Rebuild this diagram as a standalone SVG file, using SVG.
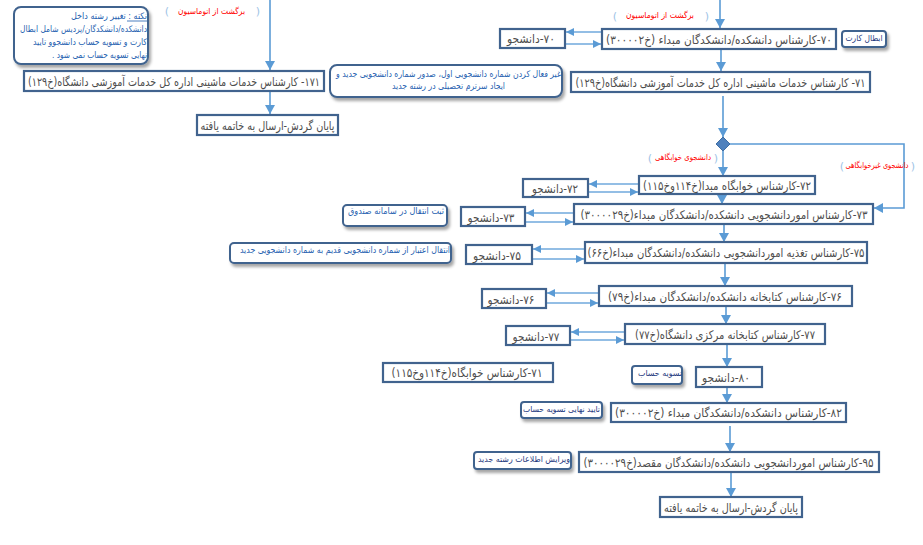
<svg xmlns="http://www.w3.org/2000/svg" width="923" height="545" viewBox="0 0 923 545">
<style>
.bx{fill:#fff;stroke:#41638e;stroke-width:2.2}
.nt{fill:#fff;stroke:#41638e;stroke-width:2}
.t{font-family:"DejaVu Sans",sans-serif;font-size:12px;fill:#4d4d4d;direction:rtl;text-anchor:middle}
.tn{font-family:"DejaVu Sans",sans-serif;font-size:9px;fill:#1f5fb0;direction:rtl;text-anchor:middle}
.td{font-family:"DejaVu Sans",sans-serif;font-size:8.5px;fill:#1f3a80;direction:rtl;text-anchor:middle}
.tr{font-family:"DejaVu Sans",sans-serif;font-size:8.5px;fill:#ff0000;direction:rtl;text-anchor:middle}
.br{font-family:"DejaVu Sans",sans-serif;font-size:11px;fill:#9dc3e6;text-anchor:middle}
.ln{fill:none;stroke:#5b9bd5;stroke-width:1.6}
.sl{fill:none;stroke:#6fa8dc;stroke-width:1.4}
</style>
<defs>
<marker id="ah" viewBox="0 0 9 10" markerWidth="9" markerHeight="10" refX="9" refY="5" orient="auto" markerUnits="userSpaceOnUse"><path d="M0,0 L9,5 L0,10 z" fill="#5b9bd5"/></marker>
<marker id="as" viewBox="0 0 8 8" markerWidth="8" markerHeight="8" refX="8" refY="4" orient="auto" markerUnits="userSpaceOnUse"><path d="M0,0 L8,4 L0,8 z" fill="#5b9bd5"/></marker>
<filter id="sh" x="-10%" y="-20%" width="130%" height="160%"><feDropShadow dx="2" dy="3" stdDeviation="1.5" flood-color="#000" flood-opacity="0.35"/></filter>
</defs>

<g id="connectors">
<line class="ln" x1="270" y1="0" x2="270" y2="70" marker-end="url(#ah)"/>
<line class="ln" x1="270" y1="92" x2="270" y2="114" marker-end="url(#ah)"/>
<line class="ln" x1="720" y1="0" x2="720" y2="28" marker-end="url(#ah)"/>
<line class="ln" x1="721" y1="50" x2="721" y2="71" marker-end="url(#ah)"/>
<line class="ln" x1="723" y1="96" x2="723" y2="137" marker-end="url(#ah)"/>
<line class="ln" x1="723" y1="151" x2="723" y2="176" marker-end="url(#ah)"/>
<polyline class="ln" points="730,144 904,144 904,208 874,208" marker-end="url(#ah)"/>
<line class="ln" x1="722" y1="195" x2="722" y2="204" marker-end="url(#ah)"/>
<line class="ln" x1="724" y1="225" x2="724" y2="242" marker-end="url(#ah)"/>
<line class="ln" x1="725" y1="264" x2="725" y2="286" marker-end="url(#ah)"/>
<line class="ln" x1="726" y1="307" x2="726" y2="324" marker-end="url(#ah)"/>
<line class="ln" x1="727" y1="345" x2="727" y2="367" marker-end="url(#ah)"/>
<line class="ln" x1="727" y1="388" x2="727" y2="403" marker-end="url(#ah)"/>
<line class="ln" x1="730" y1="426" x2="730" y2="452" marker-end="url(#ah)"/>
<line class="ln" x1="731" y1="473" x2="731" y2="497" marker-end="url(#ah)"/>
<line class="sl" x1="602" y1="32" x2="566" y2="32" marker-end="url(#as)"/>
<line class="sl" x1="566" y1="44" x2="601" y2="44" marker-end="url(#as)"/>
<line class="sl" x1="639" y1="184" x2="589" y2="184" marker-end="url(#as)"/>
<line class="sl" x1="589" y1="192" x2="638" y2="192" marker-end="url(#as)"/>
<line class="sl" x1="574" y1="213" x2="526" y2="213" marker-end="url(#as)"/>
<line class="sl" x1="526" y1="222" x2="573" y2="222" marker-end="url(#as)"/>
<line class="sl" x1="585" y1="249" x2="533" y2="249" marker-end="url(#as)"/>
<line class="sl" x1="533" y1="259" x2="584" y2="259" marker-end="url(#as)"/>
<line class="sl" x1="599" y1="293" x2="547" y2="293" marker-end="url(#as)"/>
<line class="sl" x1="547" y1="303" x2="598" y2="303" marker-end="url(#as)"/>
<line class="sl" x1="625" y1="332" x2="571" y2="332" marker-end="url(#as)"/>
<line class="sl" x1="571" y1="340" x2="624" y2="340" marker-end="url(#as)"/>
</g>

<g id="label-back-left">
<text class="br" x="167" y="15">(</text>
<text class="tr" x="211.5" y="14" textLength="67" lengthAdjust="spacingAndGlyphs">برگشت از اتوماسیون</text>
<text class="br" x="258" y="15">)</text>
</g>
<g id="label-back-right">
<text class="br" x="615" y="20">(</text>
<text class="tr" x="660" y="18" textLength="68" lengthAdjust="spacingAndGlyphs">برگشت از اتوماسیون</text>
<text class="br" x="707" y="20">)</text>
</g>
<g id="label-dorm">
<text class="br" x="650" y="162">(</text>
<text class="tr" x="683" y="160" textLength="56" lengthAdjust="spacingAndGlyphs">دانشجوی خوابگاهی</text>
<text class="br" x="716" y="162">)</text>
</g>
<g id="label-nondorm">
<text class="br" x="842" y="170">(</text>
<text class="tr" x="877" y="168" textLength="63" lengthAdjust="spacingAndGlyphs">دانشجوی غیرخوابگاهی</text>
<text class="br" x="913" y="170">)</text>
</g>

<g id="note-left">
<rect class="nt" x="14" y="7" width="134" height="57" rx="7" filter="url(#sh)"/>
<text class="tn" x="109" y="19" textLength="76" lengthAdjust="spacingAndGlyphs">نکته : تغییر رشته داخل</text>
<line x1="127" y1="21" x2="147" y2="21" stroke="#1f5fb0" stroke-width="0.8"/>
<text class="tn" x="83.5" y="32" textLength="127" lengthAdjust="spacingAndGlyphs">دانشکده/دانشکدگان/پردیس شامل ابطال</text>
<text class="tn" x="90" y="45" textLength="114" lengthAdjust="spacingAndGlyphs">کارت و تسویه حساب دانشجوو تایید</text>
<text class="tn" x="99.5" y="58" textLength="95" lengthAdjust="spacingAndGlyphs">نهایی تسویه حساب نمی شود .</text>
</g>

<g id="box-171">
<rect class="bx" x="24" y="71" width="300" height="20"/>
<text class="t" x="174" y="86" textLength="292" lengthAdjust="spacingAndGlyphs">۱۷۱- کارشناس خدمات ماشینی اداره کل خدمات آموزشی دانشگاه(خ۱۲۹)</text>
</g>
<g id="box-end-left">
<rect class="bx" x="197" y="115" width="141" height="20"/>
<text class="t" x="267.5" y="130" textLength="134" lengthAdjust="spacingAndGlyphs">پایان گردش-ارسال به خاتمه یافته</text>
</g>

<g id="note-middle">
<rect class="nt" x="330" y="65" width="232" height="32" rx="7" filter="url(#sh)"/>
<text class="tn" x="448.5" y="77" textLength="225" lengthAdjust="spacingAndGlyphs">غیر فعال کردن شماره دانشجویی اول،  صدور شماره دانشجویی جدید و</text>
<text class="tn" x="448.5" y="89" textLength="113" lengthAdjust="spacingAndGlyphs">ایجاد سرترم تحصیلی در رشته جدید</text>
</g>

<g id="box-70-student">
<rect class="bx" x="500" y="29" width="65" height="19"/>
<text class="t" x="531" y="43" textLength="48" lengthAdjust="spacingAndGlyphs">۷۰-دانشجو</text>
</g>
<g id="box-70">
<rect class="bx" x="602" y="29" width="234" height="20"/>
<text class="t" x="719" y="44" textLength="226" lengthAdjust="spacingAndGlyphs">۷۰-کارشناس دانشکده/دانشکدگان مبداء (خ۳۰۰۰۰۲)</text>
</g>
<g id="note-card">
<rect class="nt" x="842" y="31" width="44" height="16" rx="3" filter="url(#sh)"/>
<text class="td" x="864" y="41" textLength="37" lengthAdjust="spacingAndGlyphs">ابطال کارت</text>
</g>
<g id="box-71">
<rect class="bx" x="571" y="72" width="299" height="20"/>
<text class="t" x="720.5" y="87" textLength="290" lengthAdjust="spacingAndGlyphs">۷۱- کارشناس خدمات ماشینی اداره کل خدمات آموزشی دانشگاه(خ۱۲۹)</text>
</g>

<g id="decision">
<polygon points="723,137 730,144 723,151 716,144" fill="#4f81bd" stroke="#3d6ea5" stroke-width="1"/>
</g>

<g id="box-72">
<rect class="bx" x="639" y="176" width="176" height="18"/>
<text class="t" x="727" y="190" textLength="168" lengthAdjust="spacingAndGlyphs">۷۲-کارشناس خوابگاه مبدا(خ۱۱۴وخ۱۱۵)</text>
</g>
<g id="box-72-student">
<rect class="bx" x="523" y="179" width="65" height="18"/>
<text class="t" x="555" y="193" textLength="46" lengthAdjust="spacingAndGlyphs">۷۲-دانشجو</text>
</g>

<g id="box-73">
<rect class="bx" x="574" y="204" width="299" height="20"/>
<text class="t" x="724" y="219" textLength="287" lengthAdjust="spacingAndGlyphs">۷۳-کارشناس اموردانشجویی دانشکده/دانشکدگان مبداء(خ۳۰۰۰۰۲۹)</text>
</g>
<g id="box-73-student">
<rect class="bx" x="461" y="207" width="64" height="19"/>
<text class="t" x="491" y="222" textLength="47" lengthAdjust="spacingAndGlyphs">۷۳-دانشجو</text>
</g>
<g id="note-fund">
<rect class="nt" x="343" y="205" width="104" height="21" rx="4" filter="url(#sh)"/>
<text class="tn" x="396" y="214" textLength="96" lengthAdjust="spacingAndGlyphs">ثبت انتقال در سامانه صندوق</text>
</g>

<g id="box-75">
<rect class="bx" x="585" y="242" width="282" height="21"/>
<text class="t" x="726" y="257" textLength="277" lengthAdjust="spacingAndGlyphs">۷۵-کارشناس تغذیه اموردانشجویی دانشکده/دانشکدگان مبداء(خ۶۶)</text>
</g>
<g id="box-75-student">
<rect class="bx" x="466" y="245" width="66" height="19"/>
<text class="t" x="497" y="260" textLength="48" lengthAdjust="spacingAndGlyphs">۷۵-دانشجو</text>
</g>
<g id="note-credit">
<rect class="nt" x="230" y="243" width="221" height="20" rx="4" filter="url(#sh)"/>
<text class="tn" x="345" y="253" textLength="210" lengthAdjust="spacingAndGlyphs">انتقال اعتبار از شماره دانشجویی قدیم به شماره دانشجویی جدید</text>
</g>

<g id="box-76">
<rect class="bx" x="599" y="286" width="253" height="20"/>
<text class="t" x="725" y="301" textLength="234" lengthAdjust="spacingAndGlyphs">۷۶-کارشناس کتابخانه دانشکده/دانشکدگان مبداء(خ۷۹)</text>
</g>
<g id="box-76-student">
<rect class="bx" x="482" y="289" width="64" height="19"/>
<text class="t" x="511" y="304" textLength="47" lengthAdjust="spacingAndGlyphs">۷۶-دانشجو</text>
</g>

<g id="box-77">
<rect class="bx" x="625" y="324" width="200" height="20"/>
<text class="t" x="725" y="339" textLength="180" lengthAdjust="spacingAndGlyphs">۷۷-کارشناس کتابخانه مرکزی دانشگاه(خ۷۷)</text>
</g>
<g id="box-77-student">
<rect class="bx" x="506" y="326" width="64" height="19"/>
<text class="t" x="536" y="341" textLength="47" lengthAdjust="spacingAndGlyphs">۷۷-دانشجو</text>
</g>

<g id="box-71-dorm">
<rect class="bx" x="383" y="363" width="170" height="19"/>
<text class="t" x="467" y="377" textLength="151" lengthAdjust="spacingAndGlyphs">۷۱-کارشناس خوابگاه(خ۱۱۴وخ۱۱۵)</text>
</g>

<g id="note-settle">
<rect class="nt" x="632" y="366" width="50" height="18" rx="3" filter="url(#sh)"/>
<text class="td" x="660" y="376" textLength="44" lengthAdjust="spacingAndGlyphs">تسویه حساب</text>
</g>
<g id="box-80">
<rect class="bx" x="696" y="367" width="66" height="20"/>
<text class="t" x="726" y="382" textLength="48" lengthAdjust="spacingAndGlyphs">۸۰-دانشجو</text>
</g>

<g id="note-final">
<rect class="nt" x="521" y="402" width="81" height="16" rx="3" filter="url(#sh)"/>
<text class="td" x="561.5" y="412" textLength="77" lengthAdjust="spacingAndGlyphs">تایید نهایی تسویه حساب</text>
</g>
<g id="box-82">
<rect class="bx" x="611" y="403" width="235" height="19"/>
<text class="t" x="728.5" y="417" textLength="227" lengthAdjust="spacingAndGlyphs">۸۲-کارشناس دانشکده/دانشکدگان مبداء (خ۳۰۰۰۰۲)</text>
</g>

<g id="note-edit">
<rect class="nt" x="474" y="452" width="97" height="17" rx="3" filter="url(#sh)"/>
<text class="td" x="524" y="462" textLength="92" lengthAdjust="spacingAndGlyphs">ویرایش اطلاعات رشته جدید</text>
</g>
<g id="box-95">
<rect class="bx" x="579" y="452" width="300" height="20"/>
<text class="t" x="728.5" y="467" textLength="290" lengthAdjust="spacingAndGlyphs">۹۵-کارشناس اموردانشجویی دانشکده/دانشکدگان مقصد(خ۳۰۰۰۰۲۹)</text>
</g>

<g id="box-end">
<rect class="bx" x="660" y="497" width="142" height="20"/>
<text class="t" x="731" y="512" textLength="134" lengthAdjust="spacingAndGlyphs">پایان گردش-ارسال به خاتمه یافته</text>
</g>
</svg>
